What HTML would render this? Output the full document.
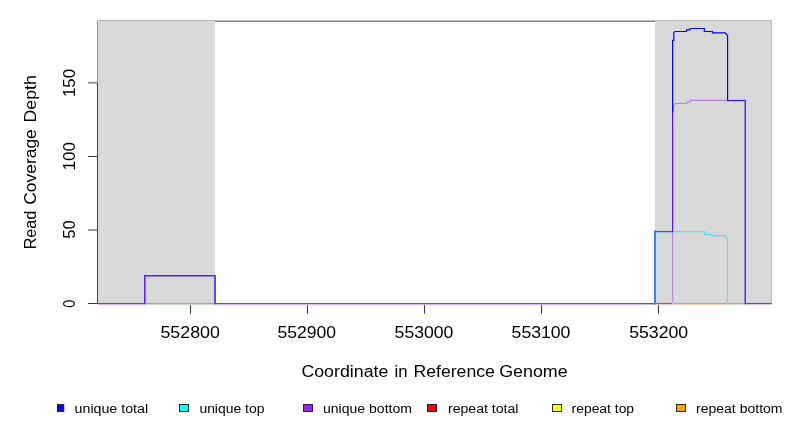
<!DOCTYPE html>
<html><head><meta charset="utf-8">
<style>
html,body{margin:0;padding:0;background:#fff;width:792px;height:432px;overflow:hidden}
svg{display:block;will-change:transform}
text{font-family:"Liberation Sans",sans-serif;fill:#000}
</style></head>
<body>
<svg width="792" height="432" viewBox="0 0 792 432">
<rect x="0" y="0" width="792" height="432" fill="#fff"/>
<!-- shaded regions -->
<rect x="97.5" y="20" width="117.5" height="283.5" fill="#d9d9d9"/>
<rect x="655" y="20" width="116.5" height="283.5" fill="#d9d9d9"/>
<!-- box -->
<g shape-rendering="crispEdges">
<rect x="98" y="20" width="117" height="1" fill="#b6b6b6"/>
<rect x="215" y="20" width="440" height="1" fill="#c2c2c2"/>
<rect x="215" y="21" width="440" height="1" fill="#808080"/>
<rect x="655" y="20" width="116" height="1" fill="#b9b9b9"/>
<rect x="771" y="20" width="1" height="284" fill="#bbbbbb"/>
<rect x="97" y="21" width="1" height="62" fill="#9a9a9a"/>
<rect x="97" y="83" width="1" height="221" fill="#444"/>
</g>
<!-- y ticks -->
<path d="M88 303.5 H97.5 M88 156.5 H97.5" fill="none" stroke="#383838" stroke-width="1.05"/>
<path d="M88 230 H97 M88 82.8 H97" fill="none" stroke="#999" stroke-width="2"/>
<!-- x ticks -->
<path d="M190.5 304 V313.7 M307.5 304 V313.7 M424.5 304 V313.7 M541.5 304 V313.7 M658.5 304 V313.7" fill="none" stroke="#404040" stroke-width="1.1"/>

<!-- data lines -->
<g fill="none" stroke-width="1.25" stroke-linejoin="miter" stroke-linecap="square">
<path d="M98 304.6 H771" stroke="#f2dbe6" stroke-width="1" stroke-linecap="butt"/>
<path d="M98 303.55 H144.7" stroke="#5548f0"/>
<path d="M145.9 276.5 V303" stroke="#b0b6e4" stroke-width="0.8" stroke-linecap="butt"/>
<path d="M144.7 303.55 V275.7 H215 V303.55" stroke="#5a1cf0" stroke-width="1.4"/>
<path d="M215 276.4 V303.55" stroke="#6444f4" stroke-width="1.9" stroke-linecap="butt"/>
<path d="M145.6 303.55 H214" stroke="#66cc77" stroke-linecap="butt"/>
<path d="M215 303.55 H655" stroke="#5548f0"/>
<path d="M655 303.55 V231.6" stroke="#3f85ff" stroke-width="2"/>
<path d="M655 231.6 H672.6" stroke="#0a70ff" stroke-width="1.3"/>
<path d="M656.1 303.55 H672.1" stroke="#cc4477" stroke-linecap="butt"/>
<path d="M673.2 303.55 H727" stroke="#ff9900" stroke-linecap="butt"/>
<path d="M728.2 303.55 H744.4" stroke="#66cc77" stroke-linecap="butt"/>
<path d="M745.25 303.55 H771" stroke="#5548f0"/>
<path d="M672.6 303 V232.2" stroke="#bb80e8" stroke-width="1.1" stroke-linecap="butt"/>
<path d="M673.2 231.6 H704.5 V234.6 H712.6 V235.6 H725.3 L727.5 238.8 V303" stroke="#48e6ee" stroke-width="1.1"/>
<path d="M672.6 231.6 V112" stroke="#6010f0" stroke-width="1.2"/>
<path d="M673 112 L673.6 106 L675.2 103.5 H686.8 V101.9 H690 V100.4 H727.4" stroke="#bb80e8" stroke-width="1.1" stroke-linecap="butt"/>
<path d="M672.6 112 V40.4 H673.8 V33 L675 31.5 H686.5 V29.8 H690 V28.5 H704.3 V31.5 H712.4 V32.8 H725.2 L727.6 35.5 V100.5" stroke="#0000ff" stroke-width="1.2"/>
<path d="M727.6 100.55 H745.25" stroke="#4a10f0" stroke-width="1.25"/>
<path d="M745.25 100.55 V303.55" stroke="#5a2cf0" stroke-width="1.5"/>
</g>

<!-- axis labels -->
<g font-size="16" fill="#000">
<text x="160.4" y="337.5" textLength="59.5" lengthAdjust="spacingAndGlyphs">552800</text>
<text x="277.6" y="337.5" textLength="58.5" lengthAdjust="spacingAndGlyphs">552900</text>
<text x="394.6" y="337.5" textLength="58.8" lengthAdjust="spacingAndGlyphs">553000</text>
<text x="511.6" y="337.5" textLength="58.8" lengthAdjust="spacingAndGlyphs">553100</text>
<text x="629.2" y="337.5" textLength="59" lengthAdjust="spacingAndGlyphs">553200</text>
<text x="301.4" y="377.2" textLength="87" lengthAdjust="spacingAndGlyphs">Coordinate</text>
<text x="394.6" y="377.2" textLength="13" lengthAdjust="spacingAndGlyphs">in</text>
<text x="413.4" y="377.2" textLength="81.5" lengthAdjust="spacingAndGlyphs">Reference</text>
<text x="499.2" y="377.2" textLength="68.5" lengthAdjust="spacingAndGlyphs">Genome</text>
<text transform="translate(35.8 249.3) rotate(-90)" textLength="38.5" lengthAdjust="spacingAndGlyphs">Read</text>
<text transform="translate(35.8 204.7) rotate(-90)" textLength="75.5" lengthAdjust="spacingAndGlyphs">Coverage</text>
<text transform="translate(35.8 122.45) rotate(-90)" textLength="47.25" lengthAdjust="spacingAndGlyphs">Depth</text>
<text transform="translate(75 307.8) rotate(-90)" textLength="8" lengthAdjust="spacingAndGlyphs">0</text>
<text transform="translate(75 238.7) rotate(-90)" textLength="18.5" lengthAdjust="spacingAndGlyphs">50</text>
<text transform="translate(75 170.5) rotate(-90)" textLength="28.5" lengthAdjust="spacingAndGlyphs">100</text>
<text transform="translate(75 97) rotate(-90)" textLength="28" lengthAdjust="spacingAndGlyphs">150</text>
</g>

<!-- legend -->
<g stroke="#1a1a1a" stroke-width="0.9">
<rect x="57" y="404.5" width="7" height="7" fill="#0000ff" stroke="none"/><path d="M57 404.5 H63.8 V411.5 H57" fill="none"/>
<rect x="179.5" y="404.5" width="9" height="7" fill="#00ffff"/>
<rect x="303.5" y="404.5" width="9" height="7" fill="#a020f0"/>
<rect x="427.5" y="404.5" width="9" height="7" fill="#ff0000"/>
<rect x="552.5" y="404.5" width="9" height="7" fill="#ffff00"/>
<rect x="676.5" y="404.5" width="9" height="7" fill="#ffa500"/>
</g>
<g font-size="12">
<text x="74.6" y="412.6" textLength="73.5" lengthAdjust="spacingAndGlyphs">unique total</text>
<text x="199.4" y="412.6" textLength="65" lengthAdjust="spacingAndGlyphs">unique top</text>
<text x="323" y="412.6" textLength="89" lengthAdjust="spacingAndGlyphs">unique bottom</text>
<text x="448" y="412.6" textLength="70.5" lengthAdjust="spacingAndGlyphs">repeat total</text>
<text x="571.6" y="412.6" textLength="62.5" lengthAdjust="spacingAndGlyphs">repeat top</text>
<text x="696" y="412.6" textLength="86.5" lengthAdjust="spacingAndGlyphs">repeat bottom</text>
</g>
</svg>
</body></html>
